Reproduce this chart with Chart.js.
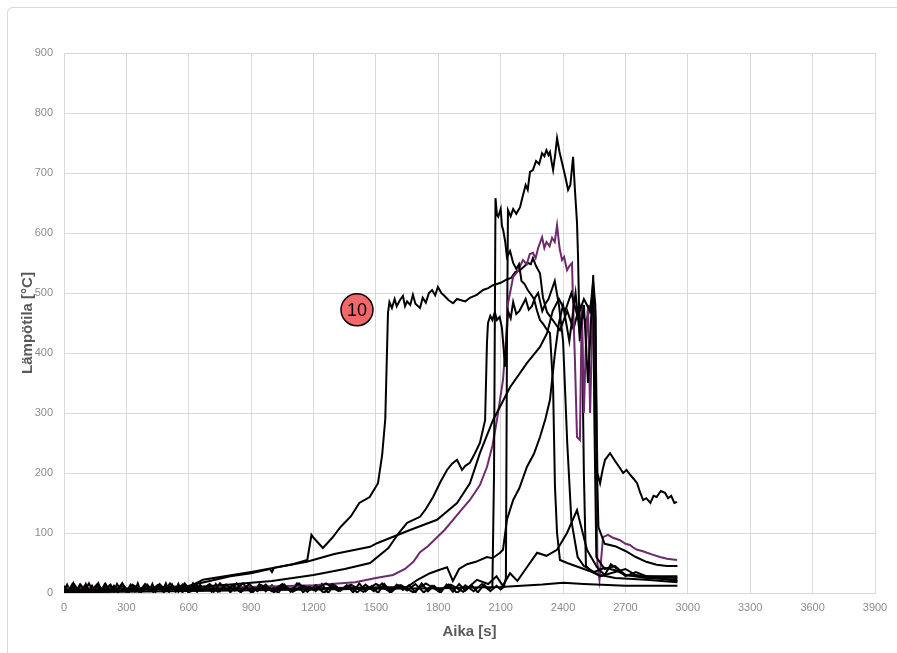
<!DOCTYPE html>
<html>
<head>
<meta charset="utf-8">
<script src="https://cdn.jsdelivr.net/npm/chart.js@4.4.1/dist/chart.umd.min.js"></script>
<style>
  html, body { margin: 0; padding: 0; background: #fff; overflow: hidden; }
  #frame {
    position: absolute; left: 7px; top: 7px; width: 1000px; height: 1000px;
    border-left: 1px solid #d9d9d9; border-top: 1px solid #d9d9d9;
    border-top-left-radius: 6px;
  }
  #wrap { position: absolute; left: 0; top: 0; width: 897px; height: 653px; }
</style>
</head>
<body>
<div id="frame"></div>
<div id="wrap"><canvas id="chart" width="897" height="653"></canvas></div>
<script>
// tick labels
const xTicks = [0, 300, 600, 900, 1200, 1500, 1800, 2100, 2400, 2700, 3000, 3300, 3600, 3900];
const yTicks = [0, 100, 200, 300, 400, 500, 600, 700, 800, 900];

// measurement 10 (marked)
const sensor10 = [
  [0, 3], [300, 6], [600, 12], [700, 20], [800, 28], [900, 33], [990, 40], [1000, 35], [1010, 42],
  [1100, 48], [1170, 55], [1190, 97], [1200, 92], [1245, 75], [1290, 92], [1330, 110], [1380, 128],
  [1420, 150], [1470, 160], [1510, 183], [1530, 230], [1545, 290], [1558, 467], [1565, 485],
  [1577, 475], [1590, 490], [1600, 478], [1615, 488], [1630, 495], [1640, 478], [1650, 486],
  [1665, 480], [1678, 497], [1690, 482], [1712, 475], [1725, 492], [1740, 484], [1755, 500],
  [1770, 505], [1785, 496], [1798, 510], [1815, 500], [1830, 495], [1850, 488], [1871, 483],
  [1890, 490], [1910, 488], [1930, 486], [1952, 492], [1985, 497], [2015, 505], [2040, 508],
  [2063, 513], [2100, 517], [2125, 522], [2150, 525], [2170, 535], [2193, 538], [2215, 545],
  [2230, 550], [2245, 548], [2255, 558], [2270, 545], [2289, 533], [2303, 493], [2323, 468],
  [2350, 455], [2385, 438], [2420, 470], [2450, 440], [2480, 480], [2510, 450], [2540, 490],
  [2555, 470], [2565, 200], [2578, 183], [2590, 205], [2602, 222], [2626, 233], [2650, 220],
  [2670, 210], [2689, 200], [2705, 205], [2720, 198], [2740, 190], [2756, 183], [2770, 168],
  [2785, 155], [2800, 158], [2820, 150], [2835, 162], [2850, 160], [2870, 170], [2890, 167],
  [2905, 158], [2920, 162], [2935, 150], [2948, 152]
];

// purple measurement
const sensorPurple = [
  [0, 8], [300, 8], [600, 9], [900, 10], [1200, 13], [1400, 18], [1500, 25], [1582, 30], [1640, 40],
  [1680, 52], [1712, 68], [1750, 78], [1794, 93], [1830, 105], [1871, 122], [1910, 138],
  [1952, 155], [2000, 180], [2034, 210], [2060, 245], [2082, 288], [2111, 355], [2125, 420],
  [2135, 483], [2145, 500], [2160, 527], [2180, 535], [2207, 555], [2225, 548], [2240, 565],
  [2255, 567], [2268, 558], [2280, 575], [2299, 593], [2310, 575], [2320, 585], [2335, 578],
  [2347, 592], [2360, 585], [2371, 613], [2383, 575], [2395, 555], [2405, 560], [2419, 538],
  [2430, 545], [2443, 550], [2448, 483], [2457, 388], [2467, 260], [2481, 255], [2490, 480],
  [2500, 300], [2510, 420], [2520, 480], [2530, 300], [2545, 505], [2555, 460], [2565, 50],
  [2575, 22], [2592, 93], [2616, 97], [2640, 92], [2674, 88], [2700, 82], [2722, 80],
  [2740, 75], [2756, 72], [2780, 70], [2804, 67], [2830, 64], [2866, 60], [2900, 57], [2948, 55]
];

// highest peak
const sensorPeak = [
  [0, 4], [15, 14], [30, 2], [45, 16], [60, 3], [75, 13], [90, 1], [105, 15], [120, 4], [135, 12],
  [150, 2], [165, 16], [180, 5], [195, 14], [210, 1], [225, 13], [240, 3], [255, 15], [270, 6],
  [285, 12], [300, 2], [320, 14], [340, 3], [355, 16], [370, 1], [390, 12], [410, 4], [425, 15],
  [440, 2], [460, 13], [475, 5], [490, 16], [505, 2], [520, 14], [535, 3], [550, 15], [570, 1],
  [585, 13], [600, 4], [620, 16], [640, 2], [655, 14], [670, 5], [690, 12], [710, 2], [730, 15],
  [750, 3], [775, 13], [800, 1], [830, 16], [860, 4], [885, 12], [910, 2], [940, 15], [970, 3],
  [1000, 13], [1030, 0], [1060, 14], [1090, 2], [1120, 16], [1150, 1], [1180, 12], [1210, 3],
  [1240, 15], [1270, 0], [1300, 14], [1330, 4], [1360, 13], [1390, 1], [1420, 16], [1450, 3],
  [1480, 12], [1510, 0], [1540, 15], [1570, 2], [1600, 14], [1630, 5], [1660, 13], [1690, 1],
  [1720, 16], [1750, 3], [1780, 12], [1810, 0], [1840, 14], [1870, 2], [1900, 15], [1930, 4],
  [1960, 13], [1990, 1], [2020, 14], [2050, 3], [2080, 12], [2100, 6], [2115, 10], [2125, 25],
  [2130, 400], [2135, 638], [2148, 628], [2160, 640], [2175, 632], [2193, 643], [2205, 660],
  [2220, 680], [2230, 672], [2241, 702], [2255, 705], [2270, 720], [2285, 715], [2299, 733],
  [2310, 728], [2320, 738], [2330, 730], [2337, 735], [2345, 718], [2352, 705], [2362, 730],
  [2371, 758], [2383, 735], [2395, 717], [2410, 695], [2424, 672], [2435, 680], [2448, 727],
  [2457, 672], [2467, 617], [2472, 560], [2480, 420], [2490, 470], [2500, 200], [2510, 45],
  [2540, 35], [2580, 30], [2650, 25], [2800, 22], [2950, 18]
];

// early spike near 2075 s
const sensorSpike = [
  [0, 12], [20, 3], [40, 15], [60, 1], [80, 14], [100, 4], [120, 16], [140, 2], [160, 13], [180, 0],
  [200, 15], [220, 3], [240, 12], [260, 1], [280, 16], [300, 4], [330, 14], [360, 2], [390, 15],
  [420, 5], [450, 13], [480, 1], [510, 16], [540, 3], [570, 14], [600, 0], [630, 15], [660, 4],
  [690, 12], [720, 2], [750, 16], [780, 5], [810, 13], [850, 1], [890, 15], [930, 3], [970, 14],
  [1010, 1], [1050, 12], [1090, 4], [1130, 16], [1170, 2], [1210, 13], [1250, 0], [1290, 15],
  [1330, 5], [1370, 12], [1410, 1], [1450, 14], [1490, 3], [1530, 16], [1570, 0], [1610, 13],
  [1650, 4], [1690, 15], [1730, 1], [1770, 12], [1810, 5], [1850, 14], [1890, 0], [1930, 13],
  [1970, 3], [2010, 15], [2040, 6], [2060, 10], [2068, 200], [2075, 658], [2082, 630], [2088, 627],
  [2100, 640], [2106, 612], [2112, 605], [2122, 585], [2130, 560], [2145, 570], [2160, 550],
  [2175, 540], [2188, 548], [2200, 520], [2215, 515], [2230, 505], [2245, 498], [2260, 490],
  [2275, 470], [2289, 455], [2305, 448], [2320, 440], [2337, 433], [2352, 343], [2361, 177],
  [2371, 100], [2385, 55], [2420, 50], [2460, 45], [2500, 40], [2540, 35], [2580, 28], [2650, 35],
  [2700, 40], [2750, 30], [2850, 25], [2950, 20]
];

// rises around 2030 s
const sensorD = [
  [0, 2], [300, 4], [600, 9], [800, 14], [1000, 20], [1200, 30], [1350, 40], [1472, 50], [1560, 75],
  [1610, 100], [1650, 117], [1712, 127], [1740, 140], [1775, 160], [1810, 185], [1842, 205],
  [1865, 215], [1890, 222], [1914, 205], [1930, 212], [1952, 217], [1975, 232], [2000, 250],
  [2025, 288], [2034, 417], [2039, 450], [2050, 462], [2060, 455], [2072, 468], [2082, 455],
  [2095, 460], [2106, 442], [2121, 377], [2135, 470], [2148, 458], [2160, 485], [2175, 465],
  [2190, 470], [2205, 480], [2220, 490], [2235, 472], [2250, 478], [2265, 492], [2280, 500],
  [2300, 470], [2315, 482], [2330, 490], [2345, 505], [2360, 520], [2380, 480], [2400, 420],
  [2420, 250], [2440, 120], [2470, 60], [2500, 45], [2550, 35], [2600, 42], [2650, 38],
  [2700, 30], [2800, 25], [2950, 22]
];

// smooth slow rise
const sensorC = [
  [0, 3], [600, 10], [668, 22], [900, 35], [1168, 52], [1300, 65], [1472, 77], [1505, 83],
  [1664, 105], [1794, 122], [1890, 150], [1952, 183], [2000, 233], [2063, 288], [2145, 343],
  [2226, 383], [2289, 410], [2323, 433], [2350, 470], [2380, 490], [2410, 470], [2440, 500],
  [2470, 460], [2500, 490], [2530, 470], [2545, 520], [2555, 480], [2560, 250], [2570, 110],
  [2600, 82], [2650, 78], [2700, 70], [2750, 60], [2800, 52], [2850, 47], [2900, 45], [2950, 45]
];

// late rise from ~2100 s
const sensorF = [
  [0, 5], [400, 6], [800, 7], [1200, 8], [1650, 10], [1700, 22], [1760, 33], [1800, 38],
  [1842, 43], [1870, 20], [1900, 40], [1938, 48], [1980, 52], [2034, 60], [2060, 58], [2097, 67],
  [2111, 72], [2130, 122], [2160, 155], [2190, 175], [2226, 210], [2260, 232], [2289, 260],
  [2315, 290], [2337, 322], [2361, 400], [2380, 450], [2400, 480], [2430, 420], [2460, 500],
  [2480, 430], [2500, 480], [2520, 350], [2545, 530], [2550, 300], [2560, 60], [2600, 40],
  [2650, 45], [2700, 30], [2800, 28], [2950, 25]
];

// small bump near 2470 s
const sensorBump = [
  [0, 10], [25, 2], [50, 14], [75, 1], [100, 12], [130, 3], [160, 15], [190, 2], [220, 13],
  [250, 4], [280, 16], [310, 1], [340, 12], [370, 3], [400, 14], [430, 1], [460, 15], [490, 4],
  [520, 12], [550, 2], [580, 16], [610, 3], [640, 13], [670, 5], [700, 15], [740, 2], [780, 14],
  [820, 4], [860, 16], [900, 1], [950, 13], [1000, 3], [1050, 15], [1100, 2], [1150, 12],
  [1200, 5], [1260, 16], [1320, 3], [1380, 14], [1440, 2], [1500, 15], [1560, 4], [1620, 13],
  [1680, 1], [1740, 16], [1800, 3], [1860, 14], [1920, 2], [1986, 22], [2040, 15], [2080, 28],
  [2110, 12], [2145, 33], [2180, 20], [2226, 43], [2275, 67], [2320, 62], [2371, 72],
  [2419, 100], [2467, 138], [2480, 120], [2515, 72], [2563, 43], [2600, 30], [2630, 48],
  [2660, 40], [2700, 28], [2750, 35], [2800, 28], [2950, 28]
];

// lowest, nearly flat
const sensorLow = [
  [0, 1], [500, 3], [1000, 5], [1500, 7], [1800, 8], [2100, 10], [2300, 14], [2400, 17],
  [2500, 15], [2700, 12], [2950, 12]
];

// marker label position (data units)
const markerLabel = "10";
const markerPos = { x: 1409, y: 472 };

const BLACK = "#000000";
const PURPLE = "#6e2a6c";

function makeSet(data, color) {
  return {
    data: data.map(([x, y]) => ({ x, y })),
    borderColor: color,
    borderWidth: 2,
    pointRadius: 0,
    tension: 0,
    fill: false,
  };
}

const markerPlugin = {
  id: "marker",
  afterDatasetsDraw(chart) {
    const { ctx, scales } = chart;
    const cx = scales.x.getPixelForValue(markerPos.x);
    const cy = scales.y.getPixelForValue(markerPos.y);
    ctx.save();
    ctx.beginPath();
    ctx.arc(cx, cy, 16, 0, Math.PI * 2);
    ctx.fillStyle = "#f2686a";
    ctx.fill();
    ctx.lineWidth = 1.5;
    ctx.strokeStyle = "#000";
    ctx.stroke();
    ctx.fillStyle = "#000";
    ctx.font = "18px 'Liberation Sans', Arial, sans-serif";
    ctx.textAlign = "center";
    ctx.textBaseline = "middle";
    ctx.fillText(markerLabel, cx, cy + 1);
    ctx.restore();
  },
};

const tickFont = { family: "'Liberation Sans', Arial, sans-serif", size: 11 };
const titleFont = { family: "'Liberation Sans', Arial, sans-serif", size: 15, weight: "bold" };

new Chart(document.getElementById("chart"), {
  type: "line",
  data: {
    datasets: [
      makeSet(sensorLow, BLACK),
      makeSet(sensorBump, BLACK),
      makeSet(sensorF, BLACK),
      makeSet(sensorC, BLACK),
      makeSet(sensorD, BLACK),
      makeSet(sensorSpike, BLACK),
      makeSet(sensorPurple, PURPLE),
      makeSet(sensorPeak, BLACK),
      makeSet(sensor10, BLACK),
    ],
  },
  options: {
    responsive: false,
    animation: false,
    layout: { padding: { top: 53, right: 22, left: 0, bottom: 0 } },
    plugins: { legend: { display: false }, tooltip: { enabled: false } },
    scales: {
      x: {
        type: "linear",
        min: 0,
        max: 3900,
        afterBuildTicks: (s) => { s.ticks = xTicks.map((v) => ({ value: v })); },
        afterFit: (s) => { s.height = 60; },
        grid: { color: "#d9d9d9", drawTicks: false },
        border: { color: "#d9d9d9" },
        ticks: { color: "#8c8c8c", font: tickFont, padding: 8, maxRotation: 0, callback: (v) => String(v) },
        title: { display: true, text: "Aika [s]", color: "#595959", font: titleFont, padding: { top: 0, bottom: 12 } },
      },
      y: {
        type: "linear",
        min: 0,
        max: 900,
        afterBuildTicks: (s) => { s.ticks = yTicks.map((v) => ({ value: v })); },
        afterFit: (s) => { s.width = 64; },
        grid: { color: "#d9d9d9", drawTicks: false },
        border: { color: "#d9d9d9" },
        ticks: { color: "#8c8c8c", font: tickFont, padding: 11, callback: (v) => String(v) },
        title: { display: true, text: "Lämpötila [°C]", color: "#595959", font: titleFont, padding: { top: 19, bottom: 0 } },
      },
    },
  },
  plugins: [markerPlugin],
});
</script>
</body>
</html>
